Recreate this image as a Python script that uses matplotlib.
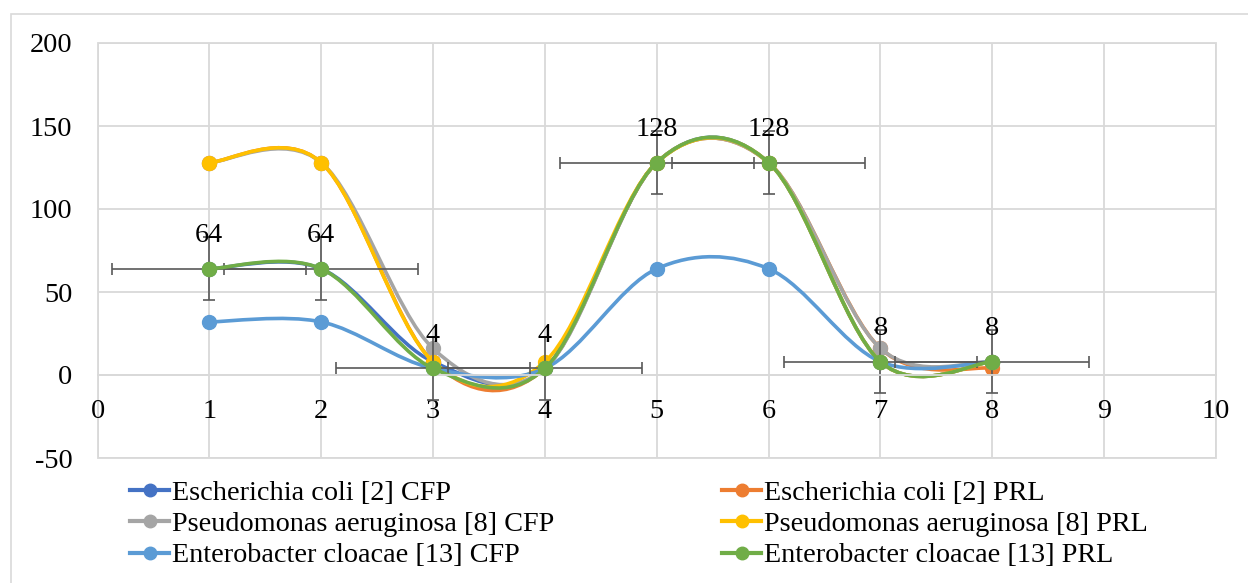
import numpy as np
import matplotlib.pyplot as plt
from matplotlib.path import Path
from matplotlib.patches import PathPatch, Rectangle
from matplotlib.lines import Line2D

plt.rcParams['font.family'] = ['Liberation Serif', 'DejaVu Serif']
plt.rcParams['axes.unicode_minus'] = False

# data
x = [1, 2, 3, 4, 5, 6, 7, 8]
ecoli_cfp = [64, 64, 8, 4, 128, 128, 8, 8]
ecoli_prl = [128, 128, 8, 4, 128, 128, 16, 4]
pseudo_cfp = [128, 128, 16, 4, 128, 128, 16, 8]
pseudo_prl = [128, 128, 8, 8, 128, 128, 8, 8]
entero_cfp = [32, 32, 4, 4, 64, 64, 8, 8]
entero_prl = [64, 64, 4, 4, 128, 128, 8, 8]

names = ["Escherichia coli [2] CFP", "Escherichia coli [2] PRL",
         "Pseudomonas aeruginosa [8] CFP", "Pseudomonas aeruginosa [8] PRL",
         "Enterobacter cloacae [13] CFP", "Enterobacter cloacae [13] PRL"]
series = [ecoli_cfp, ecoli_prl, pseudo_cfp, pseudo_prl, entero_cfp, entero_prl]
colors = ['#4472C4', '#ED7D31', '#A5A5A5', '#FFC000', '#5B9BD5', '#70AD47']


def smooth_path(xs, ys):
    # excel-like smoothed line: cubic bezier through the points
    pts = np.column_stack([xs, ys]).astype(float)
    padded = np.vstack([pts[0], pts, pts[-1]])
    verts = [pts[0]]
    codes = [Path.MOVETO]
    for i in range(len(pts) - 1):
        p0, p1, p2, p3 = padded[i], padded[i + 1], padded[i + 2], padded[i + 3]
        verts += [p1 + (p2 - p0) / 6, p2 - (p3 - p1) / 6, p2]
        codes += [Path.CURVE4] * 3
    return Path(verts, codes)


W, H = 1248, 583
fs = 20.3
fig = plt.figure(figsize=(W / 100, H / 100), dpi=100)
# outer chart border (cut off on the right / bottom)
fig.patches.append(Rectangle((11 / W, -0.1), 1.2, 1 - 14 / H + 0.1, transform=fig.transFigure,
                             fill=False, edgecolor='#D9D9D9', lw=1.2))

ax = fig.add_axes([97.5 / W, 1 - 458 / H, (1216 - 97.5) / W, (458 - 43) / H])
ax.set_xlim(0, 10)
ax.set_ylim(-50, 200)
ax.set_xticks(range(0, 11))
ax.set_yticks(range(-50, 201, 50))
ax.grid(True, color='#D9D9D9', lw=1.3)
ax.set_axisbelow(True)
for s in ['left', 'right', 'top']:
    ax.spines[s].set_visible(False)
ax.spines['bottom'].set_position(('data', 0))
ax.spines['bottom'].set_color('#D9D9D9')
ax.spines['bottom'].set_linewidth(1.3)
ax.add_patch(Rectangle((0, 0), 1, 1, transform=ax.transAxes, fill=False,
                       edgecolor='#D9D9D9', lw=1.3, clip_on=False, zorder=0.5))
ax.tick_params(axis='both', length=0, labelsize=fs)
ax.tick_params(axis='x', pad=17)
ax.tick_params(axis='y', pad=18)

handles = []
for i, (ys, name, c) in enumerate(zip(series, names, colors)):
    ax.add_patch(PathPatch(smooth_path(x, ys), fill=False, edgecolor=c, lw=2.6,
                           zorder=2 + i * 0.1, capstyle='round'))
    ax.plot(x, ys, 'o', color=c, ms=10, zorder=2.05 + i * 0.1)
    handles.append(Line2D([], [], color=c, lw=3, marker='o', ms=9, label=name))

# standard error bars on the last series
xerr = np.std(x, ddof=1) / np.sqrt(len(x))
yerr = np.std(entero_prl, ddof=1) / np.sqrt(len(entero_prl))
ax.errorbar(x, entero_prl, xerr=xerr, yerr=yerr, fmt='none', ecolor='#595959',
            elinewidth=1.2, capsize=4, capthick=1.2, zorder=2.45)
ax.plot(x, entero_prl, 'o', color=colors[5], ms=10, zorder=2.6)

for xi, yi in zip(x, entero_prl):
    ax.annotate(str(yi), (xi, yi), xytext=(0, 24), textcoords='offset points',
                ha='center', va='center', fontsize=fs, zorder=3)

kw = dict(loc='upper left', frameon=False, fontsize=fs, handlelength=1.4,
          handletextpad=0.1, labelspacing=0.2, borderpad=0, borderaxespad=0)
leg1 = fig.legend(handles=handles[0::2], bbox_to_anchor=(130 / W, 1 - 480 / H), **kw)
leg2 = fig.legend(handles=handles[1::2], bbox_to_anchor=(722 / W, 1 - 480 / H), **kw)

fig.savefig('out.png', dpi=100)
